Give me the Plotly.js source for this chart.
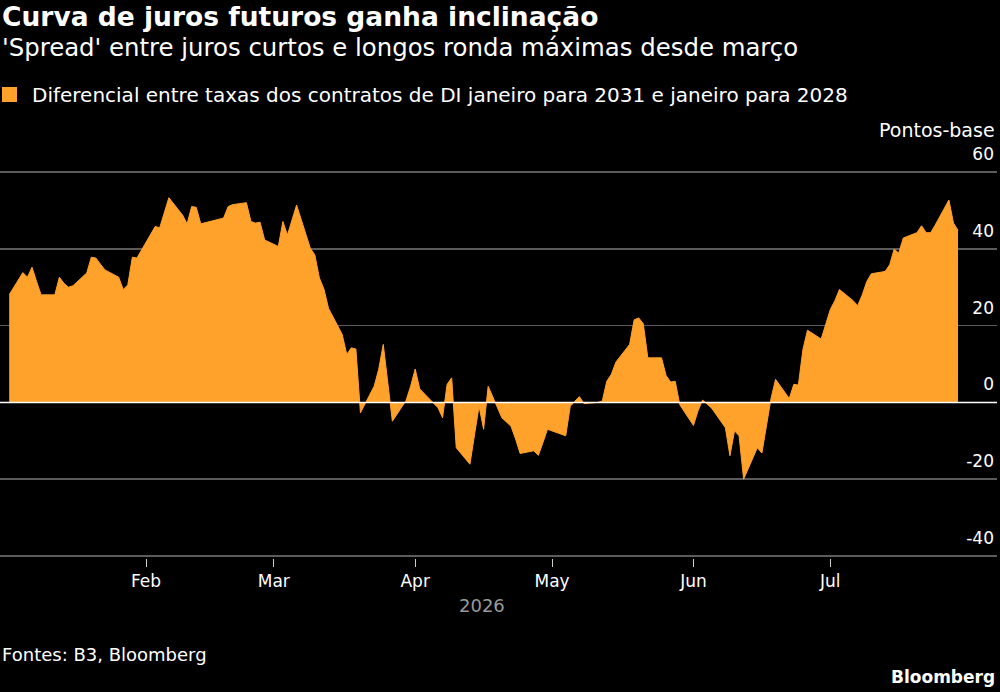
<!DOCTYPE html>
<html>
<head>
<meta charset="utf-8">
<script src="https://cdn.plot.ly/plotly-3.0.1.min.js"></script>
<style>
  html, body { margin: 0; padding: 0; background: #000; }
  #chart { width: 1000px; height: 692px; }
</style>
</head>
<body>
<div id="chart"></div>
<script>
// ---- Data ----
const dates = [
  '2026-01-02','2026-01-05','2026-01-06','2026-01-07','2026-01-08','2026-01-09','2026-01-12','2026-01-13','2026-01-14','2026-01-15',
  '2026-01-16','2026-01-19','2026-01-20','2026-01-21','2026-01-22','2026-01-23','2026-01-26','2026-01-27','2026-01-28','2026-01-29',
  '2026-01-30','2026-02-02','2026-02-03','2026-02-04','2026-02-05','2026-02-06','2026-02-09','2026-02-10','2026-02-11','2026-02-12',
  '2026-02-13','2026-02-18','2026-02-19','2026-02-20','2026-02-23','2026-02-24','2026-02-25','2026-02-26','2026-02-27','2026-03-02',
  '2026-03-03','2026-03-04','2026-03-05','2026-03-06','2026-03-09','2026-03-10','2026-03-11','2026-03-12','2026-03-13','2026-03-16',
  '2026-03-17','2026-03-18','2026-03-19','2026-03-20','2026-03-23','2026-03-24','2026-03-25','2026-03-26','2026-03-27','2026-03-30',
  '2026-03-31','2026-04-01','2026-04-02','2026-04-06','2026-04-07','2026-04-08','2026-04-09','2026-04-10','2026-04-13','2026-04-14',
  '2026-04-15','2026-04-16','2026-04-17','2026-04-20','2026-04-22','2026-04-23','2026-04-24','2026-04-27','2026-04-28','2026-04-29',
  '2026-04-30','2026-05-04','2026-05-05','2026-05-06','2026-05-07','2026-05-08','2026-05-11','2026-05-12','2026-05-13','2026-05-14',
  '2026-05-15','2026-05-18','2026-05-19','2026-05-20','2026-05-21','2026-05-22','2026-05-25','2026-05-26','2026-05-27','2026-05-28',
  '2026-05-29','2026-06-01','2026-06-02','2026-06-03','2026-06-05','2026-06-08','2026-06-09','2026-06-10','2026-06-11','2026-06-12',
  '2026-06-15','2026-06-16','2026-06-17','2026-06-18','2026-06-19','2026-06-22','2026-06-23','2026-06-24','2026-06-25','2026-06-26',
  '2026-06-29','2026-06-30','2026-07-01','2026-07-02','2026-07-03','2026-07-06','2026-07-07','2026-07-08','2026-07-09','2026-07-10',
  '2026-07-13','2026-07-14','2026-07-15','2026-07-16','2026-07-17','2026-07-20','2026-07-21','2026-07-22','2026-07-23','2026-07-24',
  '2026-07-27','2026-07-28','2026-07-29'
];
const spreadBp = [
  28, 33.8, 32.6, 35.2, 31.5, 28, 28, 32.6, 31, 30,
  30.4, 33.7, 37.8, 37.6, 36, 34.5, 32.6, 29.4, 30.6, 37.8,
  37.6, 43.5, 45.8, 45.5, 49.4, 53.3, 48.8, 46.5, 51, 50.8,
  46.5, 48, 51, 51.5, 52, 47.1, 46.7, 46.9, 42.3, 40.6,
  47.1, 43.6, 47.5, 51.4, 40.2, 38.4, 32.4, 29.5, 24.5, 17.7,
  12.5, 14.2, 13.9, -2.7, 4.2, 8.6, 15.1, 5.1, -4.9, 0.5,
  4.2, 8.7, 3.5, -1.4, -4, 4.7, 6.4, -11.8, -16.1, -8.5,
  -1, -7, 4.2, -4, -6.2, -9.5, -13.3, -12.6, -13.8, -10.5,
  -7, -8.7, -1, 0.3, 1.5, -0.3, 0, 0.3, 5.5, 7.3,
  10.5, 15.1, 21.5, 22, 20.5, 11.6, 11.6, 7, 5.3, 5.5,
  -0.6, -6, -2.2, 0.6, -1.5, -6.6, -13.9, -7.4, -8.7, -20,
  -11.8, -13.2, -6.2, 1, 6, 1, 4.7, 4.5, 13.8, 18.8,
  16.5, 20.7, 24.2, 26.5, 29.4, 26.5, 25.2, 28, 31.5, 33.5,
  34.1, 35.8, 39.9, 38.9, 42.8, 44.2, 46, 44.2, 44.2, 46.2,
  52.7, 46.7, 44.8
];
const seriesName = 'Diferencial entre taxas dos contratos de DI janeiro para 2031 e janeiro para 2028';
const monthTickVals = ['2026-02-01','2026-03-01','2026-04-01','2026-05-01','2026-06-01','2026-07-01'];
const monthTickText = ['Feb','Mar','Apr','May','Jun','Jul'];
const yTickVals = [-40, -20, 0, 20, 40, 60];
const yTickText = ['-40', '-20', '0', '20', '40', '60'];

const titleText = 'Curva de juros futuros ganha inclinação';
const subtitleText = "'Spread' entre juros curtos e longos ronda máximas desde março";
const unitText = 'Pontos-base';
const yearText = '2026';
const sourceText = 'Fontes: B3, Bloomberg';
const brandText = 'Bloomberg';

// ---- Styling ----
const ORANGE = '#FFA22C';
const FONT = '"DejaVu Sans", sans-serif';

const traces = [
  {
    x: dates, y: spreadBp, type: 'scatter', mode: 'lines',
    name: seriesName,
    fill: 'tozeroy', fillcolor: ORANGE,
    line: { color: ORANGE, width: 1 },
    showlegend: false, hoverinfo: 'skip'
  }
];

const layout = {
  width: 1000, height: 692,
  paper_bgcolor: '#000', plot_bgcolor: '#000',
  font: { family: FONT, color: '#fff', size: 17 },
  margin: { l: 0, r: 3, t: 140, b: 134, pad: 0 },
  showlegend: false,
  xaxis: {
    type: 'date',
    range: ['2025-12-30T23:40:00', '2026-08-06T13:00:00'],
    tickvals: monthTickVals, ticktext: monthTickText,
    ticks: 'outside', ticklen: 8, tickwidth: 1, tickcolor: '#cfcfcf',
    tickfont: { size: 17, color: '#fff', family: FONT },
    showgrid: false, zeroline: false, showline: false,
    fixedrange: true
  },
  yaxis: {
    range: [-40.52, 68.33],
    side: 'right',
    tickvals: yTickVals, ticktext: yTickText,
    ticklabelposition: 'inside',
    ticklabelshift: -18,
    ticks: '',
    tickfont: { size: 17, color: '#fff', family: FONT },
    showgrid: true, gridcolor: '#5b5b5b', gridwidth: 1.5,
    zeroline: false, showline: false,
    fixedrange: true
  },
  shapes: [
    { type: 'line', xref: 'paper', x0: 0, x1: 1, yref: 'y', y0: 0, y1: 0,
      line: { color: '#ffffff', width: 1.5 }, layer: 'above' },
    { type: 'rect', xref: 'paper', yref: 'paper', x0: 0.002, x1: 0.01705, y0: 1.0909, y1: 1.1268,
      fillcolor: ORANGE, line: { width: 0 } }
  ],
  annotations: [
    { text: '<b>' + titleText + '</b>', xref: 'paper', yref: 'paper', x: 0, y: 1.2943,
      xanchor: 'left', yanchor: 'middle', showarrow: false, font: { size: 26.5, color: '#fff', family: FONT } },
    { text: subtitleText, xref: 'paper', yref: 'paper', x: 0, y: 1.2201,
      xanchor: 'left', yanchor: 'middle', showarrow: false, font: { size: 24.4, color: '#fff', family: FONT } },
    { text: seriesName, xref: 'paper', yref: 'paper', x: 0.0301, y: 1.1077,
      xanchor: 'left', yanchor: 'middle', showarrow: false, font: { size: 20, color: '#fff', family: FONT } },
    { text: unitText, xref: 'paper', yref: 'paper', x: 1, y: 1.0239,
      xanchor: 'right', yanchor: 'middle', showarrow: false, font: { size: 19, color: '#fff', family: FONT } },
    { text: yearText, xref: 'paper', yref: 'paper', x: 0.4835, y: -0.1148,
      xanchor: 'center', yanchor: 'middle', showarrow: false, font: { size: 18, color: '#9a9a9a', family: FONT } },
    { text: sourceText, xref: 'paper', yref: 'paper', x: 0, y: -0.2297,
      xanchor: 'left', yanchor: 'middle', showarrow: false, font: { size: 18, color: '#fff', family: FONT } },
    { text: '<b>' + brandText + '</b>', xref: 'paper', yref: 'paper', x: 1, y: -0.2847,
      xanchor: 'right', yanchor: 'middle', showarrow: false, font: { size: 17, color: '#fff', family: FONT } }
  ]
};

Plotly.newPlot('chart', traces, layout, { staticPlot: true, displayModeBar: false });
</script>
</body>
</html>
